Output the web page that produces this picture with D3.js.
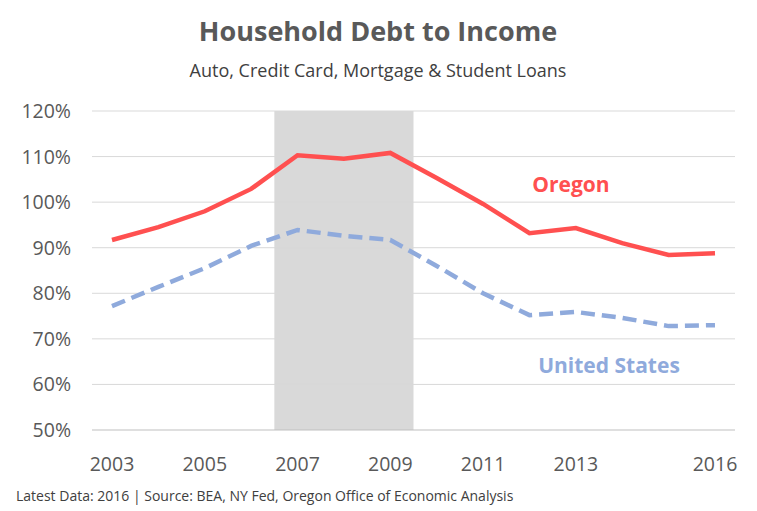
<!DOCTYPE html><html><head><script src="https://cdn.jsdelivr.net/npm/d3@7"></script>
<style>body{margin:0;background:#fff}</style></head><body><svg id="c" width="757" height="511"></svg>
<script>
const years=[2003,2004,2005,2006,2007,2008,2009,2010,2011,2012,2013,2014,2015,2016];
const oregon=[91.7,94.5,98,102.9,110.3,109.5,110.8,105.3,99.6,93.2,94.3,91,88.4,88.8];
const us=[77.2,81.4,85.5,90.4,93.9,92.6,91.7,86,80,75.2,75.9,74.6,72.8,73];
const xTicks=[2003,2005,2007,2009,2011,2013,2016];
const yTicks=[50,60,70,80,90,100,110,120];
const recession=[2006.5,2009.5];
const svg=d3.select("#c");
const x=d3.scaleLinear().domain([2003,2016]).range([112,715]);
const y=d3.scaleLinear().domain([50,120]).range([430,111]);
const f="'Open Sans', sans-serif";
svg.append("rect").attr("x",x(recession[0])).attr("width",x(recession[1])-x(recession[0])).attr("y",y(120)).attr("height",y(50)-y(120)).attr("fill","#d9d9d9");
svg.selectAll(".g").data(yTicks).join("line").attr("x1",92).attr("x2",735).attr("y1",d=>y(d)).attr("y2",d=>y(d)).attr("stroke",d=>d==50?"#bfbfbf":"#d9d9d9").attr("stroke-width",1);
svg.selectAll(".yl").data(yTicks).join("text").attr("x",71).attr("y",d=>y(d)+7).attr("text-anchor","end").attr("font-family",f).attr("font-size",19.5).attr("fill","#595959").text(d=>d+"%");
svg.selectAll(".xl").data(xTicks).join("text").attr("x",d=>x(d)).attr("y",471).attr("text-anchor","middle").attr("font-family",f).attr("font-size",19.5).attr("fill","#595959").text(d=>d);
const line=d3.line().x((d,i)=>x(years[i])).y(d=>y(d));
svg.append("path").datum(us).attr("d",line).attr("fill","none").attr("stroke","#8faadc").attr("stroke-width",4.5).attr("stroke-dasharray","14,7");
svg.append("path").datum(oregon).attr("d",line).attr("fill","none").attr("stroke","#ff5050").attr("stroke-width",4.5);
svg.append("text").attr("x",571).attr("y",192).attr("text-anchor","middle").attr("font-family",f).attr("font-size",21).attr("font-weight","bold").attr("fill","#ff5050").text("Oregon");
svg.append("text").attr("x",609).attr("y",373).attr("text-anchor","middle").attr("font-family",f).attr("font-size",21).attr("font-weight","bold").attr("fill","#8faadc").text("United States");
svg.append("text").attr("x",378).attr("y",41).attr("text-anchor","middle").attr("font-family",f).attr("font-size",27).attr("font-weight","bold").attr("fill","#595959").text("Household Debt to Income");
svg.append("text").attr("x",378).attr("y",77).attr("text-anchor","middle").attr("font-family",f).attr("font-size",18).attr("fill","#404040").text("Auto, Credit Card, Mortgage & Student Loans");
svg.append("text").attr("x",16).attr("y",501).attr("font-family",f).attr("font-size",14).attr("fill","#404040").text("Latest Data: 2016  |  Source: BEA, NY Fed, Oregon Office of Economic Analysis");
</script></body></html>
